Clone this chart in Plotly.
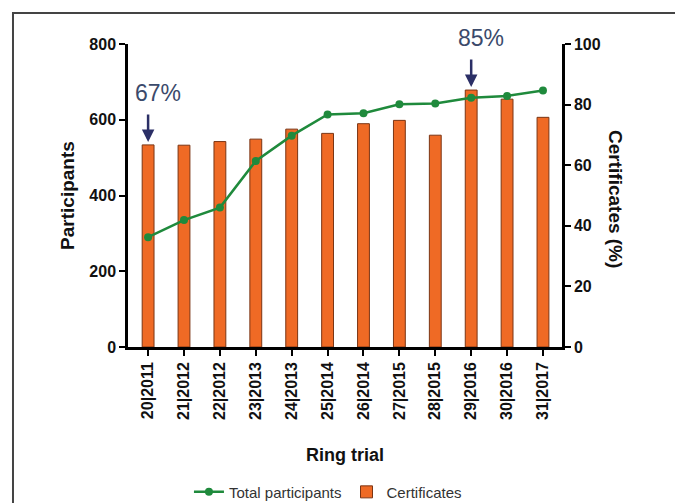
"""
Ring trial participants and certificates - dual axis bar + line chart
"""

import plotly.graph_objects as go

trials = ["20|2011", "21|2012", "22|2012", "23|2013", "24|2013", "25|2014",
          "26|2014", "27|2015", "28|2015", "29|2016", "30|2016", "31|2017"]
participants = [290, 335, 368, 491, 558, 614, 617, 641, 643, 658, 663, 677]
certificates = [66.7, 66.6, 67.8, 68.6, 71.9, 70.5, 73.7, 74.8, 69.9, 84.8, 81.8, 75.8]

# callouts on the bars: (trial index, label)
callouts = [(0, "67%"), (9, "85%")]

FONT = "Arial, Liberation Sans, sans-serif"
ORANGE = "#EF6A25"
GREEN = "#1F8A3C"
NAVY = "#2B2F66"

# page body has an 8px margin, so the figure is drawn 8px smaller
W, H = 675, 495

fig = go.Figure()

# line first so it comes first in legend; it sits on overlaying axis -> drawn above bars
fig.add_trace(go.Scatter(
    x=trials,
    y=participants,
    name="Total participants",
    mode="lines+markers",
    line=dict(color=GREEN, width=2.5),
    marker=dict(size=8, color=GREEN),
    yaxis="y2",
))

fig.add_trace(go.Bar(
    x=trials,
    y=certificates,
    name="Certificates",
    width=0.33,
    marker=dict(color=ORANGE, line=dict(color="#7A3514", width=1)),
    yaxis="y",
))

axis_common = dict(
    showline=True, linewidth=2.5, linecolor="black",
    ticks="outside", ticklen=6, tickwidth=2, tickcolor="black",
    showgrid=False, zeroline=False, automargin=False,
)

fig.update_layout(
    width=W,
    height=H,
    margin=dict(l=120, r=121, t=36, b=156),
    paper_bgcolor="white",
    plot_bgcolor="white",
    font=dict(family=FONT, color="#111"),
    xaxis=dict(
        **axis_common,
        range=[-0.56, 11.53],
        tickangle=-90,
        tickfont=dict(size=16, family=FONT, weight="bold"),
        title=dict(text="<b>Ring trial</b>", font=dict(size=18), standoff=30),
    ),
    yaxis=dict(
        **axis_common,
        side="right",
        range=[0, 100],
        dtick=20,
        tickfont=dict(size=16, weight="bold"),
    ),
    yaxis2=dict(
        **axis_common,
        side="left",
        overlaying="y",
        range=[0, 800],
        dtick=200,
        tickfont=dict(size=16, weight="bold"),
        title=dict(text="<b>Participants</b>", font=dict(size=19), standoff=10),
    ),
    legend=dict(
        orientation="h",
        xref="container", yref="container",
        x=0.474, xanchor="center",
        y=0.022, yanchor="middle",
        font=dict(size=15, color="#333"),
        traceorder="normal",
    ),
    showlegend=True,
)

# right axis title, reading top to bottom
fig.add_annotation(
    text="<b>Certificates (%)</b>",
    xref="paper", yref="paper",
    x=(628 - 128) / 434, y=0.49,
    textangle=90, showarrow=False,
    font=dict(size=19, color="#111"),
)

for idx, label in callouts:
    fig.add_annotation(
        x=trials[idx], y=certificates[idx], xref="x", yref="y",
        text="", showarrow=True,
        ax=0, ay=-32, arrowhead=2, arrowsize=1, arrowwidth=2.5,
        arrowcolor=NAVY, standoff=3,
    )
    fig.add_annotation(
        x=trials[idx], y=certificates[idx], xref="x", yref="y",
        text=label, showarrow=False,
        xshift=10, yshift=52,
        font=dict(size=23, color="#3B4A6B"),
    )

# outer frame around the figure
fig.add_shape(
    type="rect", xref="paper", yref="paper",
    x0=-0.265, x1=1.274, y0=-0.55, y1=1.102,
    line=dict(color="#444", width=2),
)

fig.write_html("out.html")
